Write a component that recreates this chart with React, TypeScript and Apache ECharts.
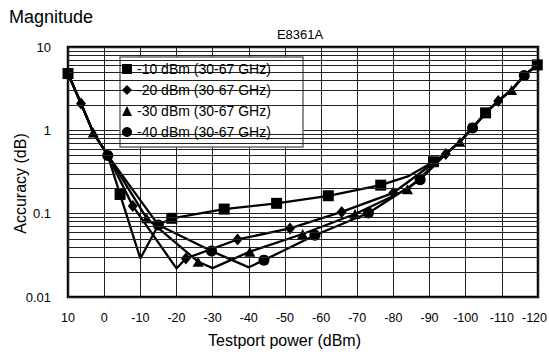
import React, { useEffect, useRef } from "react";
import * as echarts from "echarts";

// ---- data ----
const seriesNames = [
  "-10 dBm (30-67 GHz)",
  "-20 dBm (30-67 GHz)",
  "-30 dBm (30-67 GHz)",
  "-40 dBm (30-67 GHz)",
];
const seriesSymbols = ["rect", "diamond", "triangle", "circle"];

const s10X = [10, 6.4, 3.0, -1.0, -4.4, -10, -15, -18.7, -33.2, -47.7, -62.0, -76.5, -84, -91.1, -94.5, -98.4, -101.9, -105.5, -109.0, -112.7, -116.2, -119.8];
const s10Y = [4.8, 2.1, 0.94, 0.5, 0.17, 0.029, 0.073, 0.088, 0.1135, 0.133, 0.164, 0.22, 0.28, 0.42, 0.52, 0.73, 1.07, 1.62, 2.25, 3.05, 4.55, 6.1];
const s10Marks = [10, -4.4, -18.7, -33.2, -47.7, -62.0, -76.5, -91.1, -105.5, -119.8];

const s20X = [10, 6.4, 3.0, -1.0, -7.9, -20, -22.6, -36.9, -51.4, -65.7, -80.0, -94.5, -98.4, -101.9, -105.5, -109.0, -112.7, -116.2, -119.8];
const s20Y = [4.8, 2.1, 0.94, 0.5, 0.124, 0.022, 0.029, 0.049, 0.0665, 0.105, 0.178, 0.52, 0.73, 1.07, 1.62, 2.25, 3.05, 4.55, 6.1];
const s20Marks = [6.4, -7.9, -22.6, -36.9, -51.4, -65.7, -80.0, -94.5, -109.0];

const s30X = [10, 6.4, 3.0, -1.0, -11.8, -26.0, -30, -40.3, -54.9, -69.4, -83.9, -94.5, -98.4, -101.9, -105.5, -109.0, -112.7, -116.2, -119.8];
const s30Y = [4.8, 2.1, 0.94, 0.5, 0.088, 0.0265, 0.0222, 0.035, 0.057, 0.099, 0.196, 0.52, 0.73, 1.07, 1.62, 2.25, 3.05, 4.55, 6.1];
const s30Marks = [3.0, -11.8, -26.0, -40.3, -54.9, -69.4, -83.9, -98.4, -112.7];

const s40X = [10, 6.4, 3.0, -1.0, -15.0, -29.7, -40, -44.2, -58.3, -73.1, -87.4, -94.5, -98.4, -101.9, -105.5, -109.0, -112.7, -116.2, -119.8];
const s40Y = [4.8, 2.1, 0.94, 0.5, 0.073, 0.0356, 0.0227, 0.0277, 0.055, 0.102, 0.255, 0.52, 0.73, 1.07, 1.62, 2.25, 3.05, 4.55, 6.1];
const s40Marks = [-1.0, -15.0, -29.7, -44.2, -58.3, -73.1, -87.4, -101.9, -116.2];

const xMin = -120;
const xMax = 10;
const xInterval = 10;
const yMin = 0.01;
const yMax = 10;
const yMinorGrid = [
  0.02, 0.03, 0.04, 0.05, 0.06, 0.07, 0.08, 0.09,
  0.2, 0.3, 0.4, 0.5, 0.6, 0.7, 0.8, 0.9,
  2, 3, 4, 5, 6, 7, 8, 9,
];

const REG = "'Liberation Sans', Arial, sans-serif";

const symbolSizes: any[] = [11, [10, 12], [11, 10], 11];

function buildData(xs: number[], ys: number[], marks: number[], sym: string) {
  return xs.map((x, i) => ({
    value: [x, ys[i]],
    symbol: marks.includes(x) ? sym : "none",
  }));
}

export default function App() {
  const ref = useRef<HTMLDivElement>(null);
  useEffect(() => {
    if (!ref.current) return;
    const chart = echarts.init(ref.current, undefined, { renderer: "svg" });
    const sets = [
      [s10X, s10Y, s10Marks],
      [s20X, s20Y, s20Marks],
      [s30X, s30Y, s30Marks],
      [s40X, s40Y, s40Marks],
    ] as number[][][];
    const dataSeries = sets.map((s, i) => ({
      type: "line",
      name: seriesNames[i],
      data: buildData(s[0], s[1], s[2], seriesSymbols[i]),
      symbol: seriesSymbols[i],
      symbolSize: symbolSizes[i],
      showAllSymbol: true,
      clip: false,
      z: 3,
      lineStyle: { color: "#000", width: 2.3 },
      itemStyle: { color: "#000" },
    }));
    const option: any = {
      animation: false,
      backgroundColor: "#fff",
      grid: {
        show: true,
        left: 68,
        top: 47,
        width: 470,
        height: 250,
        containLabel: false,
        outerBoundsMode: "none",
        borderColor: "#000",
        borderWidth: 2.5,
        backgroundColor: "transparent",
      },
      graphic: [
        {
          type: "rect",
          z: 5,
          shape: { x: 120, y: 57, width: 183, height: 90 },
          style: { fill: "#fff", stroke: "#6a6a6a", lineWidth: 1.5 },
        },
        {
          type: "text",
          x: 9,
          y: 8,
          z: 5,
          style: { text: "Magnitude", font: `18px ${REG}`, fill: "#000", textAlign: "left", textVerticalAlign: "top" },
        },
        {
          type: "text",
          x: 300,
          y: 28,
          z: 5,
          style: { text: "E8361A", font: `13px ${REG}`, fill: "#000", textAlign: "center", textVerticalAlign: "top" },
        },
      ],
      legend: {
        left: 120,
        top: 57,
        orient: "vertical",
        itemWidth: 10,
        itemHeight: 10,
        itemGap: 5,
        padding: [4, 8, 7, 2],
        z: 10,
        selectedMode: false,
        textStyle: { fontFamily: REG, fontSize: 14, color: "#000", lineHeight: 16 },
        data: seriesNames.map((n, i) => ({ name: n, icon: seriesSymbols[i] })),
      },
      xAxis: {
        type: "value",
        min: xMin,
        max: xMax,
        interval: xInterval,
        inverse: true,
        name: "Testport power (dBm)",
        nameLocation: "middle",
        nameGap: 35,
        nameMoveOverlap: false,
        nameTextStyle: { fontFamily: REG, fontSize: 16, color: "#000", padding: [0, 37, 0, 0] },
        axisLine: { show: false },
        axisTick: { show: false },
        axisLabel: {
          margin: 14,
          fontFamily: REG,
          fontSize: 12.5,
          color: "#000",
          formatter: (v: number) => (v === xMin ? `{e|${v}}` : `${v}`),
          rich: { e: { fontFamily: REG, fontSize: 12.5, color: "#000", padding: [0, 7, 0, 0] } },
        },
        splitLine: { show: true, lineStyle: { color: "#222", width: 1 } },
      },
      yAxis: {
        type: "log",
        logBase: 10,
        min: yMin,
        max: yMax,
        name: "Accuracy (dB)",
        nameLocation: "middle",
        nameGap: 40,
        nameMoveOverlap: false,
        nameTextStyle: { fontFamily: REG, fontSize: 16, color: "#000", padding: [0, 23, 0, 0] },
        axisLine: { show: false },
        axisTick: { show: false },
        axisLabel: { margin: 17, fontFamily: REG, fontSize: 13, color: "#000" },
        splitLine: { show: true, lineStyle: { color: "#222", width: 1 } },
      },
      series: [
        {
          type: "line",
          name: "grid",
          data: [],
          silent: true,
          z: 1,
          markLine: {
            silent: true,
            symbol: ["none", "none"],
            label: { show: false },
            animation: false,
            lineStyle: { color: "#222", width: 1, type: "solid" },
            emphasis: { disabled: true },
            data: yMinorGrid.map((v) => ({ yAxis: v })),
          },
        },
        ...dataSeries,
      ],
    };
    chart.setOption(option);
    return () => chart.dispose();
  }, []);
  return (
    <div
      ref={ref}
      style={{ position: "fixed", left: 0, top: 0, width: 549, height: 356 }}
    />
  );
}
